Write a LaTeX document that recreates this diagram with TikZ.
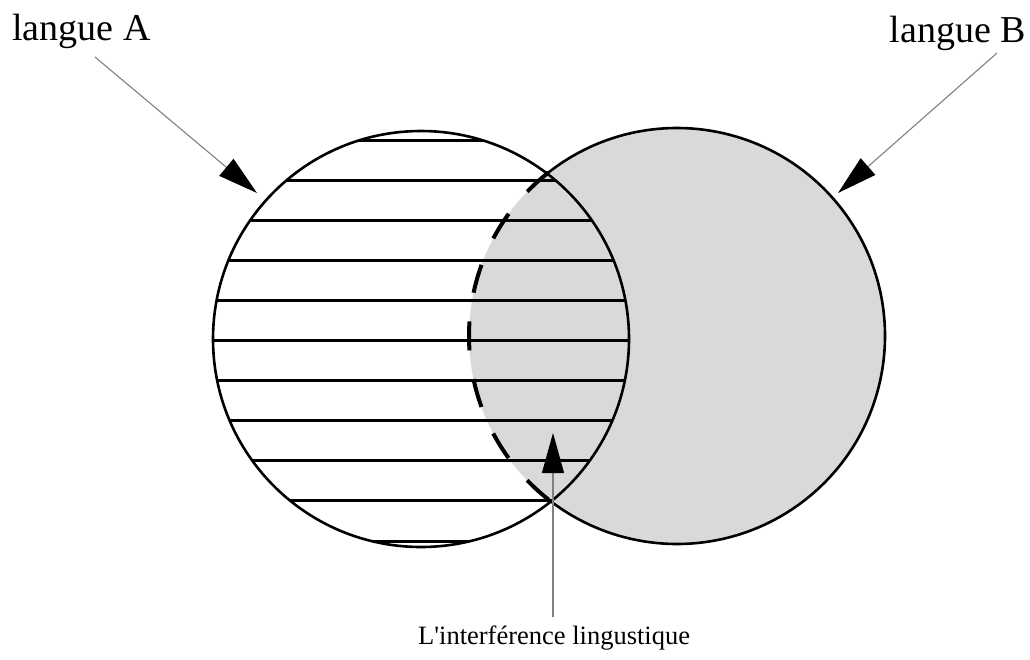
\documentclass[tikz,border=0pt]{standalone}
\usepackage{fontspec}
\setmainfont{Liberation Serif}[Ligatures=TeXOff]
\usetikzlibrary{arrows.meta}
\begin{document}
\begin{tikzpicture}[x=1pt,y=-1pt,
  hatch/.style={line width=3pt},
  outline/.style={line width=2.6pt},
  dashedarc/.style={line width=4pt, dash pattern=on 29pt off 29pt},
  pointer/.style={line width=1.1pt, draw=black!50, -{Triangle[length=40pt,width=22pt,color=black]}},
  lbl/.style={inner sep=0pt, font=\fontsize{38}{40}\selectfont},
  small/.style={inner sep=0pt, font=\fontsize{26.5}{30}\selectfont}]
\useasboundingbox (0,0) rectangle (1030,659);
\coordinate (A) at (421,339);
\coordinate (B) at (677,336);
% shaded language B
\fill[gray!30] (B) circle[radius=208];
% hatching of language A
\begin{scope}
  \clip (A) circle[radius=208];
  \foreach \y in {140,180.1,...,542} \draw[hatch] (200,\y) -- (640,\y);
\end{scope}
% outlines
\draw[outline] (A) circle[radius=208];
\draw[outline] (B) ++(-128.1:208) arc[start angle=-128.1, end angle=128.1, radius=208];
\draw[dashedarc] (B) ++(128.1:208) arc[start angle=128.1, end angle=231.9, radius=208];
% labels
\node[lbl, anchor=base west] (ta) at (12,40) {langue A};
\node[lbl, anchor=base east] (tb) at (1026,42) {langue B};
\node[small, anchor=base west] (tc) at (418,644) {L'interférence lingustique};
% pointers
\coordinate (a0) at (95,57);  \coordinate (a1) at (257,193);
\coordinate (b0) at (997,53); \coordinate (b1) at (838,193);
\coordinate (c0) at (553,617); \coordinate (c1) at (553,433);
\draw[pointer] (a0) -- (a1);
\draw[pointer] (b0) -- (b1);
\draw[pointer] (c0) -- (c1);
\end{tikzpicture}
\end{document}
